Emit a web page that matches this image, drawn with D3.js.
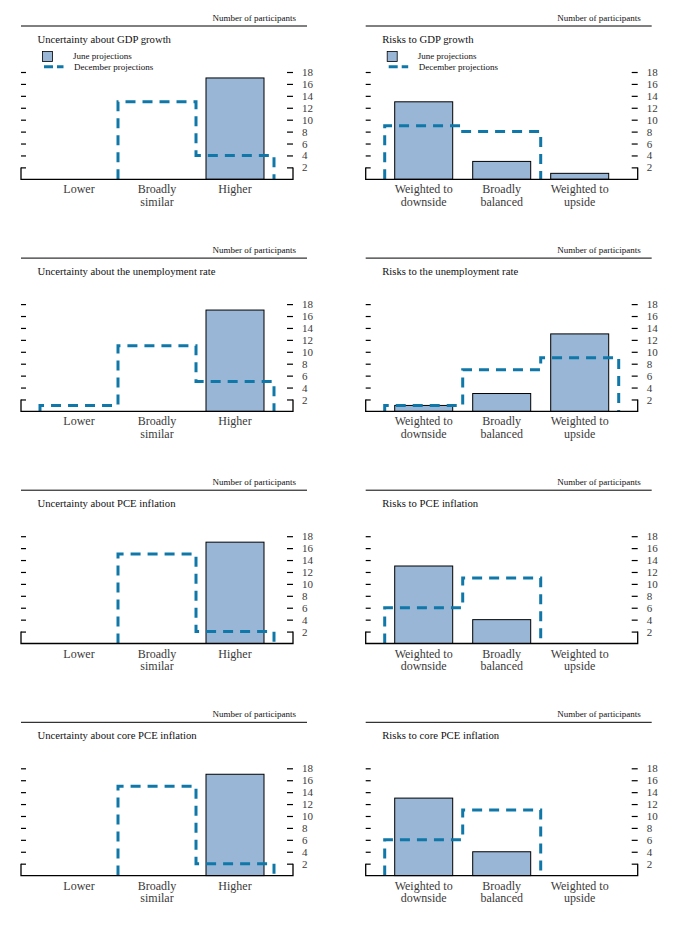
<!DOCTYPE html>
<html>
<head>
<meta charset="utf-8">
<script src="https://cdn.jsdelivr.net/npm/d3@7"></script>
<style>
    body { margin: 0; background: #fff; }
    svg { display: block; font-family: "Liberation Serif", "Times New Roman", serif; }
</style>
</head>
<body>
<div id="chart"></div>
<script>
// categories
const uncertaintyCategories = ["Lower", "Broadly similar", "Higher"];
const riskCategories = ["Weighted to downside", "Broadly balanced", "Weighted to upside"];
const yTicks = [2, 4, 6, 8, 10, 12, 14, 16, 18];

// panel titles (row by row, left then right)
const leftTitles = [
    "Uncertainty about GDP growth",
    "Uncertainty about the unemployment rate",
    "Uncertainty about PCE inflation",
    "Uncertainty about core PCE inflation",
];
const rightTitles = [
    "Risks to GDP growth",
    "Risks to the unemployment rate",
    "Risks to PCE inflation",
    "Risks to core PCE inflation",
];

// number of participants: june / december
const gdpUncertaintyJune = [0, 0, 17];
const gdpUncertaintyDec = [0, 13, 4];
const gdpRisksJune = [13, 3, 1];
const gdpRisksDec = [9, 8, 0];
const unempUncertaintyJune = [0, 0, 17];
const unempUncertaintyDec = [1, 11, 5];
const unempRisksJune = [1, 3, 13];
const unempRisksDec = [1, 7, 9];
const pceUncertaintyJune = [0, 0, 17];
const pceUncertaintyDec = [0, 15, 2];
const pceRisksJune = [13, 4, 0];
const pceRisksDec = [6, 11, 0];
const corePceUncertaintyJune = [0, 0, 17];
const corePceUncertaintyDec = [0, 15, 2];
const corePceRisksJune = [13, 4, 0];
const corePceRisksDec = [6, 11, 0];

const leftJune = [gdpUncertaintyJune, unempUncertaintyJune, pceUncertaintyJune, corePceUncertaintyJune];
const leftDec = [gdpUncertaintyDec, unempUncertaintyDec, pceUncertaintyDec, corePceUncertaintyDec];
const rightJune = [gdpRisksJune, unempRisksJune, pceRisksJune, corePceRisksJune];
const rightDec = [gdpRisksDec, unempRisksDec, pceRisksDec, corePceRisksDec];

const BAR_FILL = "#99b6d6",
    DASH_COLOR = "#0f78a8",
    LABEL_COLOR = "#3a3a3a";

const svg = d3.select("#chart")
    .append("svg")
    .attr("width", 685)
    .attr("height", 932)
    .attr("viewBox", [0, 0, 685, 932]);

function drawPanel({ x0, top, title, categories, june, dec, legend }) {
    const g = svg.append("g");
    const plotW = 272;

    const x = d3.scaleBand()
        .domain(categories)
        .range([x0 + 19, x0 + 253])
        .padding(0);

    const y = d3.scaleLinear()
        .domain([0, 18])
        .range([top + 153.3, top + 46]);

    const barW = 58;

    // header rule + unit label
    g.append("line")
        .attr("x1", x0).attr("x2", x0 + 286)
        .attr("y1", top).attr("y2", top)
        .attr("stroke", "#000")
        .attr("stroke-width", 1);

    g.append("text")
        .attr("x", x0 + 275)
        .attr("y", top - 5)
        .attr("text-anchor", "end")
        .style("font-size", "9px")
        .attr("fill", "#111")
        .text("Number of participants");

    g.append("text")
        .attr("x", x0 + 16.5)
        .attr("y", top + 17)
        .style("font-size", "10.7px")
        .attr("fill", "#111")
        .text(title);

    if (legend) {
        g.append("rect")
            .attr("x", x0 + 21.5)
            .attr("y", top + 25.5)
            .attr("width", 10)
            .attr("height", 10)
            .attr("fill", BAR_FILL)
            .attr("stroke", "#000")
            .attr("stroke-width", 0.8);
        g.append("text")
            .attr("x", x0 + 52)
            .attr("y", top + 32.8)
            .style("font-size", "9px")
            .attr("fill", "#111")
            .text("June projections");
        g.append("line")
            .attr("x1", x0 + 23).attr("x2", x0 + 42.5)
            .attr("y1", top + 40.7).attr("y2", top + 40.7)
            .attr("stroke", DASH_COLOR)
            .attr("stroke-width", 3)
            .attr("stroke-dasharray", "9,4");
        g.append("text")
            .attr("x", x0 + 53)
            .attr("y", top + 43.8)
            .style("font-size", "9px")
            .attr("fill", "#111")
            .text("December projections");
    }

    // june bars
    g.selectAll(".bar")
        .data(categories.map((c, i) => [c, june[i]]).filter(d => d[1] > 0))
        .enter()
        .append("rect")
        .attr("class", "bar")
        .attr("x", d => x(d[0]) + (x.bandwidth() - barW) / 2)
        .attr("y", d => y(d[1]))
        .attr("width", barW)
        .attr("height", d => y(0) - y(d[1]))
        .attr("fill", BAR_FILL)
        .attr("stroke", "#000")
        .attr("stroke-width", 1);

    // december step outline, skipping runs along the baseline
    const pts = [[x(categories[0]), 0]];
    categories.forEach((c, i) => {
        pts.push([x(c), dec[i]]);
        pts.push([x(c) + x.bandwidth(), dec[i]]);
    });
    pts.push([x(categories[categories.length - 1]) + x.bandwidth(), 0]);

    const p = d3.path();
    let penDown = false;
    for (let i = 1; i < pts.length; i++) {
        const a = pts[i - 1], b = pts[i];
        if (a[1] === 0 && b[1] === 0) { penDown = false; continue; }
        if (!penDown) { p.moveTo(a[0], y(a[1])); penDown = true; }
        p.lineTo(b[0], y(b[1]));
    }
    g.append("path")
        .attr("d", p.toString())
        .attr("fill", "none")
        .attr("stroke", DASH_COLOR)
        .attr("stroke-width", 3)
        .attr("stroke-dasharray", "10,7");

    // axes: inward ticks both sides, labels on the right
    const yLeft = d3.axisLeft(y).tickValues(yTicks).tickSize(-5).tickFormat("");
    g.append("g")
        .attr("transform", "translate(" + x0 + ",0)")
        .call(yLeft)
        .call(s => s.select(".domain").remove())
        .call(s => s.selectAll("line").attr("stroke", "#000").attr("stroke-width", 1.2));

    const yRight = d3.axisRight(y).tickValues(yTicks).tickSize(-6).tickPadding(9);
    g.append("g")
        .attr("transform", "translate(" + (x0 + plotW) + ",0)")
        .call(yRight)
        .call(s => s.select(".domain").remove())
        .call(s => s.selectAll("line").attr("stroke", "#000").attr("stroke-width", 1.2))
        .call(s => s.selectAll("text")
            .attr("fill", LABEL_COLOR)
            .style("font-size", "11px")
            .style("font-family", "'Liberation Serif', serif"));

    // baseline bracket
    const frame = d3.line()([
        [x0, y(2)], [x0, y(0)], [x0 + plotW, y(0)], [x0 + plotW, y(2)],
    ]);
    g.append("path")
        .attr("d", frame)
        .attr("fill", "none")
        .attr("stroke", "#000")
        .attr("stroke-width", 1.3);

    // category labels, last word wrapped
    const xl = g.selectAll(".xlabel")
        .data(categories)
        .enter()
        .append("text")
        .attr("class", "xlabel")
        .attr("text-anchor", "middle")
        .attr("fill", LABEL_COLOR)
        .style("font-size", "12px");
    xl.each(function (c) {
        const words = c.split(" ");
        const lines = words.length > 1
            ? [words.slice(0, -1).join(" "), words[words.length - 1]]
            : [c];
        const t = d3.select(this);
        lines.forEach((ln, k) => {
            t.append("tspan")
                .attr("x", x(c) + x.bandwidth() / 2)
                .attr("y", y(0) + 14 + k * 12.7)
                .text(ln);
        });
    });
}

for (let i = 0; i < 4; i++) {
    const top = 26 + i * 232.1;
    drawPanel({
        x0: 21, top: top, title: leftTitles[i],
        categories: uncertaintyCategories,
        june: leftJune[i], dec: leftDec[i], legend: i === 0,
    });
    drawPanel({
        x0: 365.7, top: top, title: rightTitles[i],
        categories: riskCategories,
        june: rightJune[i], dec: rightDec[i], legend: i === 0,
    });
}
</script>
</body>
</html>
